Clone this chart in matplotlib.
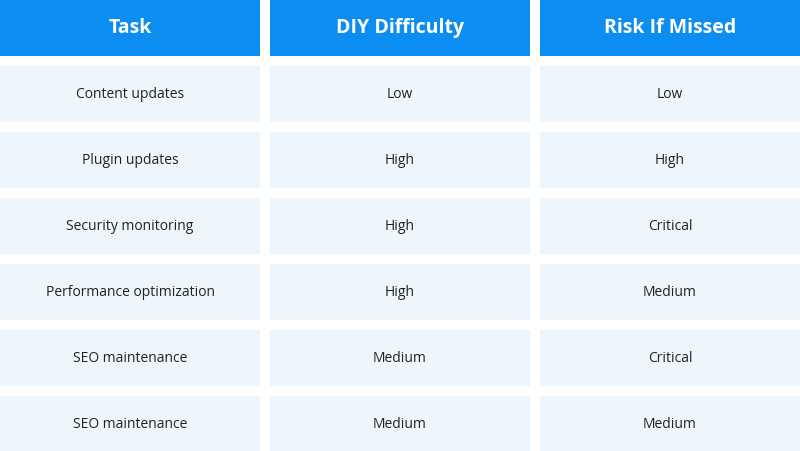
import matplotlib
matplotlib.use("Agg")
import matplotlib.pyplot as plt
from matplotlib.patches import Rectangle

headers = ["Task", "DIY Difficulty", "Risk If Missed"]
tasks = ["Content updates", "Plugin updates", "Security monitoring",
         "Performance optimization", "SEO maintenance", "SEO maintenance"]
difficulty = ["Low", "High", "High", "High", "Medium", "Medium"]
risk = ["Low", "High", "Critical", "Medium", "Critical", "Medium"]

plt.rcParams['font.family'] = ['Open Sans', 'DejaVu Sans']
fig = plt.figure(figsize=(8, 4.51), dpi=100)
ax = fig.add_axes([0, 0, 1, 1])
ax.set_xlim(0, 800)
ax.set_ylim(451, 0)
ax.axis('off')

col_x = [0, 270, 540]
col_w = 260
head_h = 56
row_h = 56
pitch = 66
head_col = "#0B8DF2"
row_col = "#EEF6FD"

for i, h in enumerate(headers):
    ax.add_patch(Rectangle((col_x[i], 0), col_w, head_h, color=head_col, lw=0))
    ax.text(col_x[i] + col_w / 2, head_h / 2, h, ha='center', va='center',
            color='white', fontsize=14, fontweight='bold')

cols = [tasks, difficulty, risk]
for r in range(len(tasks)):
    y0 = 66 + r * pitch
    for c in range(3):
        ax.add_patch(Rectangle((col_x[c], y0), col_w, row_h, color=row_col, lw=0))
        ax.text(col_x[c] + col_w / 2, y0 + row_h / 2, cols[c][r], ha='center',
                va='center', color='#222222', fontsize=10)

fig.savefig("out.png", dpi=100, facecolor='white')
